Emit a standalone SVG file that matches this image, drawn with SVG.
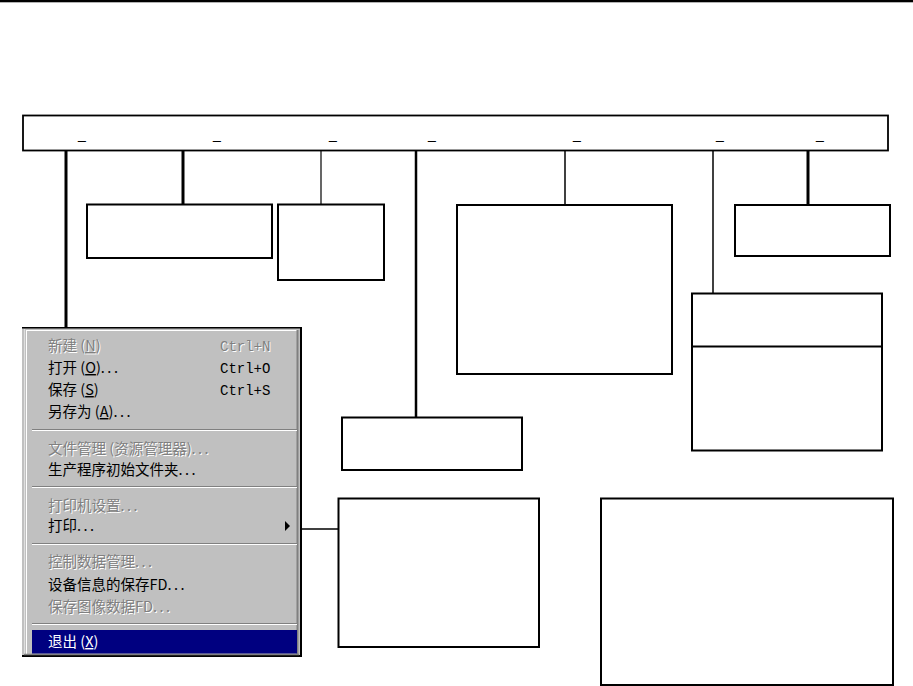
<svg xmlns="http://www.w3.org/2000/svg" width="913" height="686" viewBox="0 0 913 686">
<style>
.box{fill:#fff;stroke:#000;stroke-width:2}
.c{stroke:#000;fill:none}
.m{font-family:"Noto Sans CJK SC","Liberation Sans",sans-serif;font-size:14.5px;fill:#000}
.k{font-family:"Liberation Mono",monospace;font-size:14px;fill:#000}
.u{font-family:"Liberation Sans",sans-serif;font-size:14px;fill:#000}
text.d{fill:#808080}
text.dw{fill:#fff}
.e{letter-spacing:2.5px}
.sd{stroke:#808080;stroke-width:1}
.sl{stroke:#fff;stroke-width:1}
</style>
<rect x="0" y="0" width="913" height="2.3" fill="#000"/>
<g id="menubar">
<rect x="23" y="115.5" width="865" height="35" fill="#fff" stroke="#000" stroke-width="1.8"/>
<text class="u" x="78" y="139">_</text>
<text class="u" x="213" y="139">_</text>
<text class="u" x="329" y="139">_</text>
<text class="u" x="428" y="139">_</text>
<text class="u" x="573" y="139">_</text>
<text class="u" x="716" y="139">_</text>
<text class="u" x="816" y="139">_</text>
</g>
<g id="connectors">
<line class="c" x1="66" y1="151" x2="66" y2="327" stroke-width="3"/>
<line class="c" x1="183" y1="151" x2="183" y2="205" stroke-width="3"/>
<line class="c" x1="321" y1="151" x2="321" y2="205" stroke-width="1.2"/>
<line class="c" x1="416" y1="151" x2="416" y2="418" stroke-width="2.5"/>
<line class="c" x1="565" y1="151" x2="565" y2="205" stroke-width="1.5"/>
<line class="c" x1="713" y1="151" x2="713" y2="293" stroke-width="1.5"/>
<line class="c" x1="808" y1="151" x2="808" y2="205" stroke-width="3"/>
<line class="c" x1="300" y1="529" x2="339" y2="529" stroke-width="1.5"/>
</g>
<g id="boxA"><rect class="box" x="87" y="204.5" width="185" height="53.5"/></g>
<g id="boxB"><rect class="box" x="278" y="204.5" width="106" height="75.5"/></g>
<g id="boxC"><rect class="box" x="457" y="205" width="215" height="169"/></g>
<g id="boxD"><rect class="box" x="735" y="205" width="155" height="51"/></g>
<g id="boxE"><rect class="box" x="692" y="293.5" width="190" height="157"/><line class="c" x1="692" y1="346.5" x2="882" y2="346.5" stroke-width="2"/></g>
<g id="boxF"><rect class="box" x="342" y="417.5" width="180" height="52.5"/></g>
<g id="boxG"><rect class="box" x="338.5" y="498.5" width="200.5" height="148.5"/></g>
<g id="boxH"><rect class="box" x="601" y="498.5" width="292" height="186.5"/></g>
<g id="menu">
<rect x="22" y="327" width="280" height="330" fill="#000"/>
<rect x="22" y="328.5" width="278" height="326.5" fill="#c0c0c0"/>
<line x1="24.5" y1="329" x2="24.5" y2="654" stroke="#dfdfdf"/>
<line x1="26.5" y1="330" x2="26.5" y2="654" stroke="#fff"/>
<line x1="26" y1="330.5" x2="298" y2="330.5" stroke="#fff"/>
<line x1="297.5" y1="330" x2="297.5" y2="655" stroke="#808080" stroke-width="2"/>
<line x1="24" y1="654.5" x2="299" y2="654.5" stroke="#808080" stroke-width="1.5"/>
<line class="sd" x1="32" y1="429.5" x2="297" y2="429.5"/><line class="sl" x1="32" y1="430.5" x2="297" y2="430.5"/>
<line class="sd" x1="32" y1="486.5" x2="297" y2="486.5"/><line class="sl" x1="32" y1="487.5" x2="297" y2="487.5"/>
<line class="sd" x1="32" y1="543.5" x2="297" y2="543.5"/><line class="sl" x1="32" y1="544.5" x2="297" y2="544.5"/>
<line class="sd" x1="32" y1="623.5" x2="297" y2="623.5"/><line class="sl" x1="32" y1="624.5" x2="297" y2="624.5"/>
<rect x="32" y="630" width="265" height="23.5" fill="#000080"/>
<text class="m dw" x="49" y="352">新建 (<tspan text-decoration="underline">N</tspan>)</text>
<text class="m d" x="48" y="351">新建 (<tspan text-decoration="underline">N</tspan>)</text>
<text class="k dw" x="221" y="352">Ctrl+N</text>
<text class="k d" x="220" y="351">Ctrl+N</text>
<text class="m" x="48" y="373">打开 (<tspan text-decoration="underline">O</tspan>)<tspan class="e">...</tspan></text>
<text class="k" x="220" y="373">Ctrl+O</text>
<text class="m" x="48" y="395">保存 (<tspan text-decoration="underline">S</tspan>)</text>
<text class="k" x="220" y="395">Ctrl+S</text>
<text class="m" x="48" y="417">另存为 (<tspan text-decoration="underline">A</tspan>)<tspan class="e">...</tspan></text>
<text class="m dw" x="49" y="455">文件管理 (资源管理器)<tspan class="e">...</tspan></text>
<text class="m d" x="48" y="454">文件管理 (资源管理器)<tspan class="e">...</tspan></text>
<text class="m" x="48" y="475">生产程序初始文件夹<tspan class="e">...</tspan></text>
<text class="m dw" x="49" y="512">打印机设置<tspan class="e">...</tspan></text>
<text class="m d" x="48" y="511">打印机设置<tspan class="e">...</tspan></text>
<text class="m" x="48" y="531">打印<tspan class="e">...</tspan></text>
<polygon points="285,521 285,531 290,526" fill="#000"/>
<text class="m dw" x="49" y="568">控制数据管理<tspan class="e">...</tspan></text>
<text class="m d" x="48" y="567">控制数据管理<tspan class="e">...</tspan></text>
<text class="m" x="48" y="590">设备信息的保存FD<tspan class="e">...</tspan></text>
<text class="m dw" x="49" y="613">保存图像数据FD<tspan class="e">...</tspan></text>
<text class="m d" x="48" y="612">保存图像数据FD<tspan class="e">...</tspan></text>
<text class="m dw" x="48" y="647">退出 (<tspan text-decoration="underline">X</tspan>)</text>
</g>
</svg>
